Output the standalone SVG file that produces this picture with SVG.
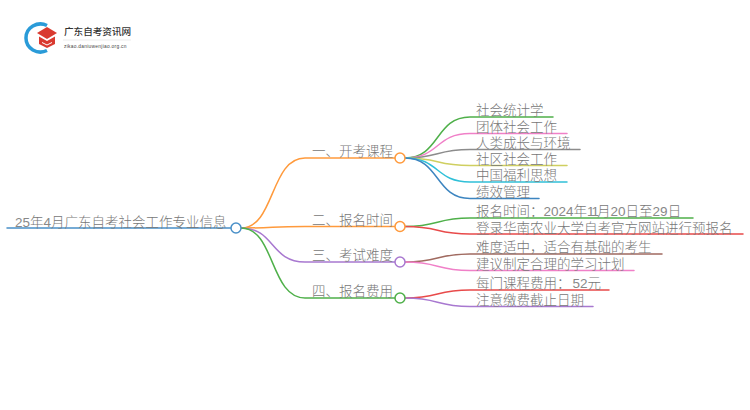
<svg xmlns="http://www.w3.org/2000/svg" width="750" height="410" viewBox="0 0 750 410">
<style>
text{font-family:"Liberation Sans","Noto Sans CJK SC",sans-serif;font-size:13.5px;fill:#777;font-weight:300}
.d{fill:#888}
.c path{fill:none;stroke-width:1.5;stroke-linecap:round}
circle{fill:#fff;stroke-width:1.5}
</style>
<rect width="750" height="410" fill="#fff"/>
<g id="logo">
<path d="M47 25.500 A14.500 14 0 1 0 47 50.500" fill="none" stroke="#2a9bd8" stroke-width="3.500"/>
<path d="M37 33 L47 27 L57 33 L47 39 Z" fill="#d93a30"/>
<path d="M39 36.500 L47 41 L55 36.500 V44 L47 48 L39 44 Z" fill="#d93a30"/>
<path d="M42 42.500 L47 45 L52 42.500" fill="none" stroke="#fff" stroke-width="1"/>
<text x="64" y="35" style="font-size:9.6px;fill:#333;font-weight:500">广东自考资讯网</text>
<path d="M63 40 H131" stroke="#ddd" stroke-width="0.6" fill="none"/>
<text x="64" y="48" style="font-size:4.8px;fill:#444;letter-spacing:.3px">zikao.daniuwenjiao.org.cn</text>
</g>
<g class="c">
<path d="M7 228 H231" stroke="#4a90c8" stroke-width="1.8"/>
<path d="M241 228 C275 228 270 158 305 158 H395" stroke="#ff9a3c"/>
<path d="M241 228 C275 228 270 226.500 305 226.500 H395" stroke="#ff9a3c"/>
<path d="M241 228 C275 228 270 262 305 262 H395" stroke="#a878d0"/>
<path d="M241 228 C275 228 270 298 305 298 H395" stroke="#4fb04a"/>
<path d="M405 158 C440 158 435 117 470 117 H553" stroke="#4fb04a"/>
<path d="M405 158 C440 158 435 133.500 470 133.500 H567" stroke="#f080c8"/>
<path d="M405 158 C440 158 435 149.500 470 149.500 H580" stroke="#8c8c8c"/>
<path d="M405 158 C440 158 435 165.500 470 165.500 H567" stroke="#cfcf60"/>
<path d="M405 158 C440 158 435 182 470 182 H567" stroke="#30c0d8"/>
<path d="M405 158 C440 158 435 198.500 470 198.500 H539" stroke="#3d85c0"/>
<path d="M405 226.500 C440 226.500 435 218 470 218 H693" stroke="#4fb04a"/>
<path d="M405 226.500 C440 226.500 435 234 470 234 H743" stroke="#e84a4a"/>
<path d="M405 262 C440 262 435 254 470 254 H662" stroke="#a06a60"/>
<path d="M405 262 C440 262 435 270.500 470 270.500 H634" stroke="#f080c8"/>
<path d="M405 298 C440 298 435 290 470 290 H609" stroke="#e84a4a"/>
<path d="M405 298 C440 298 435 306.500 470 306.500 H593" stroke="#a878d0"/>
</g>
<g id="root"><text x="15" y="227"><tspan class="d">25</tspan>年<tspan class="d">4</tspan>月广东自考社会工作专业信息</text><circle cx="236" cy="228" r="5" stroke="#4a90c8"/></g>
<g id="b1"><text x="312" y="156">一、开考课程</text><circle cx="400" cy="158" r="5" stroke="#ff9a3c"/></g>
<g id="b2"><text x="312" y="225">二、报名时间</text><circle cx="400" cy="226.500" r="5" stroke="#ff9a3c"/></g>
<g id="b3"><text x="312" y="260">三、考试难度</text><circle cx="400" cy="262" r="5" stroke="#a878d0"/></g>
<g id="b4"><text x="312" y="296">四、报名费用</text><circle cx="400" cy="298" r="5" stroke="#4fb04a"/></g>
<g id="n1"><text x="476" y="115">社会统计学</text></g>
<g id="n2"><text x="476" y="132">团体社会工作</text></g>
<g id="n3"><text x="476" y="148">人类成长与环境</text></g>
<g id="n4"><text x="476" y="164">社区社会工作</text></g>
<g id="n5"><text x="476" y="180">中国福利思想</text></g>
<g id="n6"><text x="476" y="197">绩效管理</text></g>
<g id="n7"><text x="476" y="216">报名时间：<tspan class="d">2024</tspan>年<tspan class="d" style="letter-spacing:-2px">11</tspan>月<tspan class="d">20</tspan>日至<tspan class="d">29</tspan>日</text></g>
<g id="n8"><text x="476" y="233">登录华南农业大学自考官方网站进行预报名</text></g>
<g id="n9"><text x="476" y="252">难度适中，适合有基础的考生</text></g>
<g id="n10"><text x="476" y="269">建议制定合理的学习计划</text></g>
<g id="n11"><text x="476" y="288">每门课程费用：<tspan class="d" dx="2">52</tspan>元</text></g>
<g id="n12"><text x="476" y="305">注意缴费截止日期</text></g>
</svg>
